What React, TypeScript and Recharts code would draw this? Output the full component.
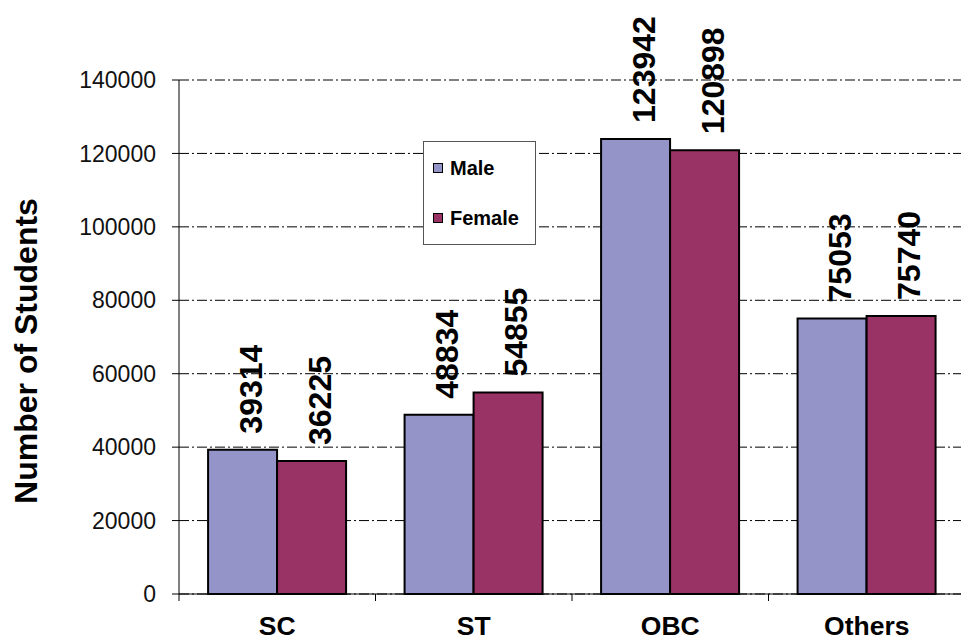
import React from "react";
import { BarChart, Bar, XAxis, YAxis, CartesianGrid, LabelList } from "recharts";

const categories = ["SC", "ST", "OBC", "Others"];
const maleValues = [39314, 48834, 123942, 75053];
const femaleValues = [36225, 54855, 120898, 75740];
const yTicks = [0, 20000, 40000, 60000, 80000, 100000, 120000, 140000];
const seriesNames = ["Male", "Female"];

const data = categories.map((c, i) => ({ name: c, Male: maleValues[i], Female: femaleValues[i] }));

const MALE = "#9494C8";
const FEMALE = "#993366";
const FONT = "'Liberation Sans', Arial, sans-serif";
const BAND = 786 / categories.length;

const XTick = (props: any) => {
  const { x, y, payload, index } = props;
  const last = index === categories.length - 1;
  return (
    <g>
      <line x1={x - BAND / 2} x2={x - BAND / 2} y1={y} y2={y + 7} stroke="#000" />
      {last && <line x1={x + BAND / 2} x2={x + BAND / 2} y1={y} y2={y + 7} stroke="#000" />}
      <text x={x} y={y + 41} textAnchor="middle" fontFamily={FONT} fontWeight="bold" fontSize={26.5} fill="#000">
        {payload.value}
      </text>
    </g>
  );
};

const ValueLabel = (props: any) => {
  const { x, y, width, value } = props;
  const cx = x + width / 2 + 19;
  const ty = y - 16;
  return (
    <text x={cx} y={ty} transform={`rotate(-90, ${cx}, ${ty})`} textAnchor="start" fontFamily={FONT} fontWeight="bold" fontSize={32} fill="#000">
      {value}
    </text>
  );
};

const YLabel = () => (
  <text x={29} y={343} transform="rotate(-90, 29, 343)" textAnchor="middle" fontFamily={FONT} fontWeight="bold" fontSize={32} fill="#000">
    Number of Students
  </text>
);

const LegendBox = () => (
  <div style={{ position: "absolute", left: 415, top: 133, border: "1.5px solid #555", background: "#fff", width: 113, height: 104, boxSizing: "border-box", fontFamily: FONT, fontWeight: "bold", fontSize: 20, color: "#000" }}>
    {seriesNames.map((s, i) => (
      <div key={s} style={{ position: "absolute", left: 9, top: i === 0 ? 14 : 64, display: "flex", alignItems: "center", lineHeight: "24px" }}>
        <span style={{ display: "inline-block", width: 8, height: 8, background: i === 0 ? MALE : FEMALE, border: "1.5px solid #000", marginRight: 7 }} />
        {s}
      </div>
    ))}
  </div>
);

export default function App() {
  return (
    <div style={{ position: "relative", width: 961, height: 633 }}>
      <BarChart width={961} height={633} data={data} margin={{ top: 72, right: 4, bottom: 0, left: 0 }} barCategoryGap="14.8%" barGap={0} style={{ background: "#fff" }}>
        <CartesianGrid horizontal vertical={false} stroke="#000" strokeDasharray="10 3 2 3" strokeWidth={1} />
        <XAxis dataKey="name" tick={<XTick />} tickLine={false} tickSize={0} tickMargin={0} axisLine={{ stroke: "#000" }} interval={0} height={47} />
        <YAxis
          domain={[0, 140000]}
          ticks={yTicks}
          width={171}
          tickSize={7}
          tickMargin={16}
          tickLine={{ stroke: "#000" }}
          axisLine={{ stroke: "#000" }}
          tick={{ fontFamily: FONT, fontSize: 23, fill: "#111" }}
          label={<YLabel />}
        />
        <Bar dataKey="Male" fill={MALE} stroke="#000" strokeWidth={2} isAnimationActive={false}>
          <LabelList dataKey="Male" content={<ValueLabel />} />
        </Bar>
        <Bar dataKey="Female" fill={FEMALE} stroke="#000" strokeWidth={2} isAnimationActive={false}>
          <LabelList dataKey="Female" content={<ValueLabel />} />
        </Bar>
      </BarChart>
      <LegendBox />
    </div>
  );
}
